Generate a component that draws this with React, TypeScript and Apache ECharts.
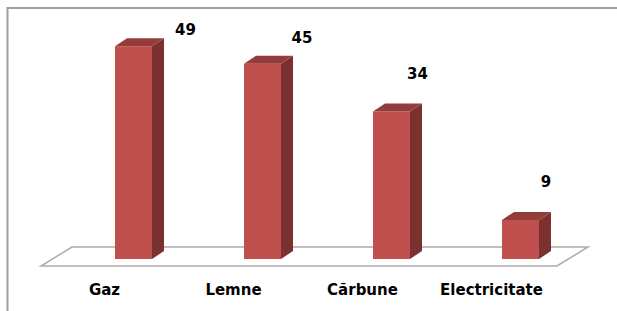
import React, { useEffect, useRef } from "react";
import * as echarts from "echarts";

const categories = ["Gaz", "Lemne", "Cărbune", "Electricitate"];
const values = [49, 45, 34, 9];
// label nudges (px) relative to the bar's top back corner
const labelDx = [21.5, 9, -4.5, -5];
const labelDy = [-8.5, -18, -29.5, -30];

const FONT = "'DejaVu Sans', sans-serif";

export default function App() {
  const ref = useRef<HTMLDivElement>(null);
  useEffect(() => {
    document.body.style.margin = "0";
    const chart = echarts.init(ref.current!, null, { renderer: "svg" });
    const W = 37, DX = 12, DY = -8, OFF = 10.5;
    chart.setOption({
      animation: false,
      backgroundColor: "#ffffff",
      grid: { left: 40, width: 516, top: 42, height: 217 },
      xAxis: {
        type: "category",
        data: categories,
        axisLine: { show: false },
        axisTick: { show: false },
        splitLine: { show: false },
        axisLabel: {
          interval: 0,
          margin: 23,
          color: "#000",
          fontFamily: FONT,
          fontWeight: "bold",
          fontSize: 15,
        },
      },
      yAxis: { type: "value", min: 0, max: 50, show: false },
      graphic: [
        {
          type: "polyline",
          shape: { points: [[7.5, 311], [7.5, 8], [617, 8]] },
          style: { stroke: "#a0a0a0", lineWidth: 2, fill: "none" },
          silent: true,
        },
      ],
      series: [
        {
          type: "custom",
          z: 1,
          data: [[0, 0]],
          encode: { x: 0, y: 1 },
          renderItem: (params: any) => {
            const cs = params.coordSys;
            const yb = cs.y + cs.height;
            const x0 = cs.x + 1;
            const x1 = cs.x + cs.width + 1;
            return {
              type: "polygon",
              shape: {
                points: [
                  [x0, yb + 7],
                  [x1, yb + 7],
                  [x1 + 31, yb - 12],
                  [x0 + 31, yb - 12],
                ],
              },
              style: { fill: "#ffffff", stroke: "#ababab", lineWidth: 1.5 },
            };
          },
        },
        {
          type: "custom",
          z: 2,
          data: values.map((v, i) => [i, v]),
          encode: { x: 0, y: 1 },
          renderItem: (params: any, api: any) => {
            const i = api.value(0);
            const v = api.value(1);
            const top = api.coord([i, v]);
            const base = api.coord([i, 0]);
            const x0 = top[0] + OFF;
            const yt = top[1];
            const yb = base[1];
            return {
              type: "group",
              children: [
                {
                  type: "rect",
                  shape: { x: x0, y: yt, width: W, height: yb - yt },
                  style: { fill: "#C0504D" },
                },
                {
                  type: "polygon",
                  shape: {
                    points: [
                      [x0 + W, yt],
                      [x0 + W + DX, yt + DY],
                      [x0 + W + DX, yb + DY],
                      [x0 + W, yb],
                    ],
                  },
                  style: { fill: "#7B3130" },
                },
                {
                  type: "polygon",
                  shape: {
                    points: [
                      [x0, yt],
                      [x0 + DX, yt + DY],
                      [x0 + W + DX, yt + DY],
                      [x0 + W, yt],
                    ],
                  },
                  style: { fill: "#943C3A" },
                },
                {
                  type: "text",
                  x: x0 + W + DX + labelDx[i],
                  y: yt + DY + labelDy[i],
                  style: {
                    text: String(v),
                    fill: "#000",
                    font: `bold 15px ${FONT}`,
                    align: "center",
                    verticalAlign: "middle",
                  },
                },
              ],
            };
          },
        },
      ],
    });
    return () => chart.dispose();
  }, []);
  return <div ref={ref} style={{ width: 617, height: 311 }} />;
}
